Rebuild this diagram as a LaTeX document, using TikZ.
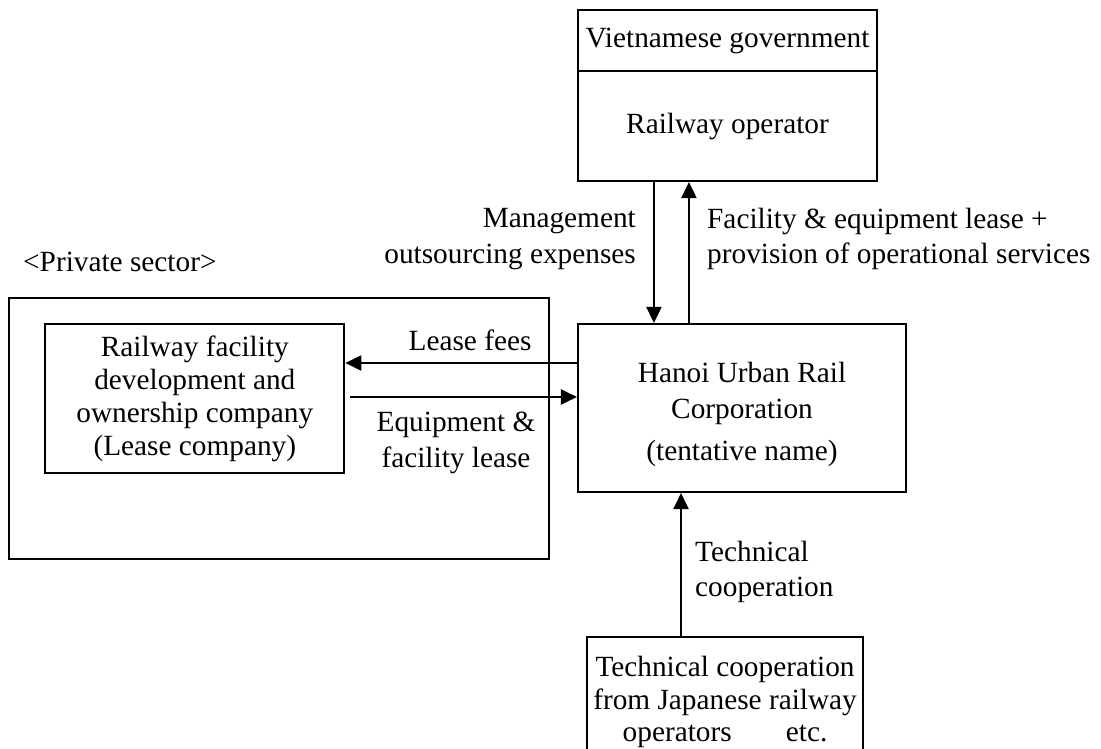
\documentclass[tikz,border=0pt]{standalone}
\usepackage{fontspec}
\setmainfont{Liberation Serif}
\usetikzlibrary{arrows.meta}
\begin{document}
\begin{tikzpicture}[x=1pt,y=-1pt,
  every node/.style={font=\fontsize{29.3}{35.5}\selectfont},
  box/.style={draw, line width=2.1pt, rectangle, inner sep=0pt, align=center},
  lbl/.style={inner sep=0pt},
  arr/.style={line width=2.1pt, -{Triangle[length=16pt,width=15pt]}}]
\clip (0,0) rectangle (1101,749);
\fill[white] (0,0) rectangle (1101,749);

% government / operator
\node[box, minimum width=299pt, minimum height=61pt] (gov) at (727.5,40.5) {Vietnamese government};
\node[box, minimum width=299pt, minimum height=110pt] (op) at (727.5,126) {Railway operator};

% central corporation
\node[box, minimum width=328pt, minimum height=168pt] (hanoi) at (742,408) {};
\node[lbl, align=center, font=\fontsize{29.3}{36}\selectfont] (hanoitxt) at (742,414)
  {Hanoi Urban Rail\\ Corporation\\[6pt] (tentative name)};

% private sector
\node[lbl, anchor=west] (priv) at (23,262) {<Private sector>};
\node[box, minimum width=540pt, minimum height=261pt] (pbox) at (279,428.5) {};
\node[box, minimum width=299pt, minimum height=149pt, font=\fontsize{29.3}{33}\selectfont] (lcomp) at (194.8,398.5)
  {Railway facility\\ development and\\ ownership company\\ (Lease company)};

% technical cooperation source
\node[box, minimum width=276pt, minimum height=130pt, anchor=north west, font=\fontsize{29.3}{32.5}\selectfont] (tech) at (586,636)
  {Technical cooperation\\ from Japanese railway\\ operators\hspace{1.6em} etc.};

% connectors
\draw[arr] ([xshift=77pt]op.south west) -- ([xshift=77pt]op.south west |- hanoi.north);
\draw[arr] ([xshift=112pt]op.south west |- hanoi.north) -- ([xshift=112pt]op.south west);
\draw[arr] ([yshift=45pt]hanoi.west) -- ([yshift=45pt]hanoi.west -| lcomp.east);
\draw[arr] ([xshift=5pt,yshift=1.5pt]lcomp.east) -- ([yshift=1.5pt]lcomp.east -| hanoi.west);
\draw[arr] ([xshift=95pt]tech.north west) -- ([xshift=95pt]tech.north west |- hanoi.south);

% connector labels
\node[lbl, align=right, anchor=east] (mgmt) at (636,239) {Management\\ outsourcing expenses};
\node[lbl, align=left, anchor=west] (fac) at (707,239) {Facility \& equipment lease +\\ provision of operational services};
\node[lbl] (fees) at (470,340) {Lease fees};
\node[lbl, align=center] (equip) at (456,443) {Equipment \&\\ facility lease};
\node[lbl, align=left, anchor=west] (tc) at (695,572) {Technical\\ cooperation};
\end{tikzpicture}
\end{document}
